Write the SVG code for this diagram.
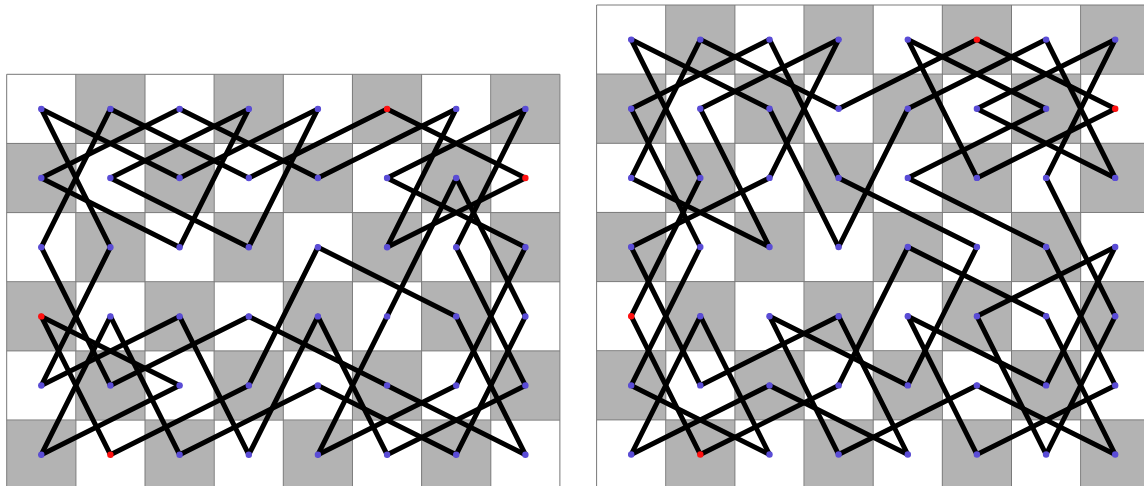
<svg xmlns="http://www.w3.org/2000/svg" xmlns:xlink="http://www.w3.org/1999/xlink" width="1144" height="486" viewBox="0 0 1144 486">
<style>
.grid{fill:none;stroke:#7a7a7a;stroke-width:1}
.e line{stroke:#000;stroke-width:5;stroke-linecap:round}
.n{fill:#5a4cd6}
.s{fill:#ff1010}
</style>
<defs>
<pattern id="chkL" patternUnits="userSpaceOnUse" x="6.7" y="74.3" width="138.3" height="138.3">
<rect width="138.3" height="138.3" fill="#fff"/>
<rect x="69.15" y="0" width="69.15" height="69.15" fill="#b3b3b3"/>
<rect x="0" y="69.15" width="69.15" height="69.15" fill="#b3b3b3"/>
</pattern>
<pattern id="chkR" patternUnits="userSpaceOnUse" x="596.6" y="5" width="138.3" height="138.3">
<rect width="138.3" height="138.3" fill="#fff"/>
<rect x="69.15" y="0" width="69.15" height="69.15" fill="#b3b3b3"/>
<rect x="0" y="69.15" width="69.15" height="69.15" fill="#b3b3b3"/>
</pattern>
</defs>
<rect width="1144" height="486" fill="#fff"/>
<g id="boardL">
<rect x="6.7" y="74.3" width="553.2" height="414.9" fill="url(#chkL)"/>
<path class="grid" d="M6.7 74.3V489.2M75.85 74.3V489.2M145 74.3V489.2M214.15 74.3V489.2M283.3 74.3V489.2M352.45 74.3V489.2M421.6 74.3V489.2M490.75 74.3V489.2M559.9 74.3V489.2M6.7 74.3H559.9M6.7 143.45H559.9M6.7 212.6H559.9M6.7 281.75H559.9M6.7 350.9H559.9M6.7 420.05H559.9"/>
</g>
<g id="boardR">
<rect x="596.6" y="5" width="553.2" height="484.05" fill="url(#chkR)"/>
<path class="grid" d="M596.6 5V489M665.75 5V489M734.9 5V489M804.05 5V489M873.2 5V489M942.35 5V489M1011.5 5V489M1080.65 5V489M596.6 5H1150M596.6 74.15H1150M596.6 143.3H1150M596.6 212.45H1150M596.6 281.6H1150M596.6 350.75H1150M596.6 419.9H1150"/>
</g>
<g id="connectors" class="e">
<line x1="41.3" y1="108.9" x2="110.4" y2="247.2"/>
<line x1="41.3" y1="108.9" x2="179.6" y2="178"/>
<line x1="110.4" y1="108.9" x2="41.3" y2="247.2"/>
<line x1="110.4" y1="108.9" x2="248.8" y2="178"/>
<line x1="179.6" y1="108.9" x2="41.3" y2="178"/>
<line x1="179.6" y1="108.9" x2="317.9" y2="178"/>
<line x1="248.8" y1="108.9" x2="110.4" y2="178"/>
<line x1="248.8" y1="108.9" x2="179.6" y2="247.2"/>
<line x1="41.3" y1="178" x2="179.6" y2="247.2"/>
<line x1="110.4" y1="178" x2="248.8" y2="247.2"/>
<line x1="179.6" y1="178" x2="317.9" y2="108.9"/>
<line x1="248.8" y1="178" x2="387.1" y2="108.9"/>
<line x1="41.3" y1="247.2" x2="110.4" y2="385.5"/>
<line x1="110.4" y1="247.2" x2="41.3" y2="385.5"/>
<line x1="248.8" y1="247.2" x2="317.9" y2="108.9"/>
<line x1="387.1" y1="108.9" x2="525.4" y2="178"/>
<line x1="317.9" y1="178" x2="456.2" y2="108.9"/>
<line x1="456.2" y1="108.9" x2="387.1" y2="247.2"/>
<line x1="525.4" y1="108.9" x2="387.1" y2="178"/>
<line x1="525.4" y1="108.9" x2="456.2" y2="247.2"/>
<line x1="387.1" y1="178" x2="525.4" y2="247.2"/>
<line x1="456.2" y1="178" x2="387.1" y2="316.4"/>
<line x1="456.2" y1="178" x2="525.4" y2="316.4"/>
<line x1="525.4" y1="178" x2="387.1" y2="247.2"/>
<line x1="456.2" y1="247.2" x2="525.4" y2="385.5"/>
<line x1="525.4" y1="247.2" x2="456.2" y2="385.5"/>
<line x1="317.9" y1="247.2" x2="456.2" y2="316.4"/>
<line x1="317.9" y1="247.2" x2="248.8" y2="385.5"/>
<line x1="41.3" y1="316.4" x2="179.6" y2="385.5"/>
<line x1="41.3" y1="316.4" x2="110.4" y2="454.7"/>
<line x1="110.4" y1="316.4" x2="41.3" y2="454.7"/>
<line x1="110.4" y1="316.4" x2="179.6" y2="454.7"/>
<line x1="179.6" y1="316.4" x2="41.3" y2="385.5"/>
<line x1="179.6" y1="316.4" x2="248.8" y2="454.7"/>
<line x1="248.8" y1="316.4" x2="110.4" y2="385.5"/>
<line x1="248.8" y1="316.4" x2="387.1" y2="385.5"/>
<line x1="179.6" y1="385.5" x2="41.3" y2="454.7"/>
<line x1="248.8" y1="385.5" x2="110.4" y2="454.7"/>
<line x1="179.6" y1="454.7" x2="317.9" y2="385.5"/>
<line x1="248.8" y1="454.7" x2="317.9" y2="316.4"/>
<line x1="317.9" y1="316.4" x2="387.1" y2="454.7"/>
<line x1="387.1" y1="316.4" x2="317.9" y2="454.7"/>
<line x1="456.2" y1="316.4" x2="525.4" y2="454.7"/>
<line x1="525.4" y1="316.4" x2="456.2" y2="454.7"/>
<line x1="317.9" y1="385.5" x2="456.2" y2="454.7"/>
<line x1="387.1" y1="385.5" x2="525.4" y2="454.7"/>
<line x1="456.2" y1="385.5" x2="317.9" y2="454.7"/>
<line x1="525.4" y1="385.5" x2="387.1" y2="454.7"/>
<line x1="631.2" y1="39.6" x2="769.5" y2="108.7"/>
<line x1="631.2" y1="39.6" x2="700.3" y2="177.9"/>
<line x1="700.3" y1="39.6" x2="631.2" y2="177.9"/>
<line x1="700.3" y1="39.6" x2="838.6" y2="108.7"/>
<line x1="769.5" y1="39.6" x2="631.2" y2="108.7"/>
<line x1="769.5" y1="39.6" x2="838.6" y2="177.9"/>
<line x1="838.6" y1="39.6" x2="700.3" y2="108.7"/>
<line x1="838.6" y1="39.6" x2="769.5" y2="177.9"/>
<line x1="907.8" y1="39.6" x2="976.9" y2="177.9"/>
<line x1="907.8" y1="39.6" x2="1046.1" y2="108.7"/>
<line x1="976.9" y1="39.6" x2="838.6" y2="108.7"/>
<line x1="976.9" y1="39.6" x2="1115.2" y2="108.7"/>
<line x1="1046.1" y1="39.6" x2="907.8" y2="108.7"/>
<line x1="1046.1" y1="39.6" x2="1115.2" y2="177.9"/>
<line x1="1115.2" y1="39.6" x2="976.9" y2="108.7"/>
<line x1="1115.2" y1="39.6" x2="1046.1" y2="177.9"/>
<line x1="631.2" y1="108.7" x2="700.3" y2="247"/>
<line x1="700.3" y1="108.7" x2="769.5" y2="247"/>
<line x1="769.5" y1="108.7" x2="838.6" y2="247"/>
<line x1="838.6" y1="247" x2="907.8" y2="108.7"/>
<line x1="976.9" y1="108.7" x2="1115.2" y2="177.9"/>
<line x1="1046.1" y1="108.7" x2="907.8" y2="177.9"/>
<line x1="1115.2" y1="108.7" x2="976.9" y2="177.9"/>
<line x1="631.2" y1="177.9" x2="769.5" y2="247"/>
<line x1="700.3" y1="177.9" x2="631.2" y2="316.2"/>
<line x1="769.5" y1="177.9" x2="631.2" y2="247"/>
<line x1="838.6" y1="177.9" x2="976.9" y2="247"/>
<line x1="907.8" y1="177.9" x2="1046.1" y2="247"/>
<line x1="1046.1" y1="177.9" x2="1115.2" y2="316.2"/>
<line x1="631.2" y1="247" x2="700.3" y2="385.4"/>
<line x1="700.3" y1="247" x2="631.2" y2="385.4"/>
<line x1="907.8" y1="247" x2="1046.1" y2="316.2"/>
<line x1="907.8" y1="247" x2="838.6" y2="385.4"/>
<line x1="976.9" y1="247" x2="907.8" y2="385.4"/>
<line x1="1046.1" y1="247" x2="1115.2" y2="385.4"/>
<line x1="1115.2" y1="247" x2="976.9" y2="316.2"/>
<line x1="1115.2" y1="247" x2="1046.1" y2="385.4"/>
<line x1="631.2" y1="316.2" x2="700.3" y2="454.5"/>
<line x1="700.3" y1="316.2" x2="631.2" y2="454.5"/>
<line x1="700.3" y1="316.2" x2="769.5" y2="454.5"/>
<line x1="769.5" y1="316.2" x2="907.8" y2="385.4"/>
<line x1="769.5" y1="316.2" x2="838.6" y2="454.5"/>
<line x1="838.6" y1="316.2" x2="700.3" y2="385.4"/>
<line x1="838.6" y1="316.2" x2="907.8" y2="454.5"/>
<line x1="907.8" y1="316.2" x2="1046.1" y2="385.4"/>
<line x1="907.8" y1="316.2" x2="976.9" y2="454.5"/>
<line x1="976.9" y1="316.2" x2="1046.1" y2="454.5"/>
<line x1="1046.1" y1="316.2" x2="1115.2" y2="454.5"/>
<line x1="1115.2" y1="316.2" x2="1046.1" y2="454.5"/>
<line x1="631.2" y1="385.4" x2="769.5" y2="454.5"/>
<line x1="769.5" y1="385.4" x2="631.2" y2="454.5"/>
<line x1="769.5" y1="385.4" x2="907.8" y2="454.5"/>
<line x1="838.6" y1="385.4" x2="700.3" y2="454.5"/>
<line x1="976.9" y1="385.4" x2="838.6" y2="454.5"/>
<line x1="976.9" y1="385.4" x2="1115.2" y2="454.5"/>
<line x1="1115.2" y1="385.4" x2="976.9" y2="454.5"/>
</g>
<g id="nodesL">
<g id="L00"><circle class="n" cx="41.3" cy="108.9" r="3.2"/></g>
<g id="L10"><circle class="n" cx="110.4" cy="108.9" r="3.2"/></g>
<g id="L20"><circle class="n" cx="179.6" cy="108.9" r="3.2"/></g>
<g id="L30"><circle class="n" cx="248.8" cy="108.9" r="3.2"/></g>
<g id="L40"><circle class="n" cx="317.9" cy="108.9" r="3.2"/></g>
<g id="L50"><circle class="s" cx="387.1" cy="108.9" r="3.2"/></g>
<g id="L60"><circle class="n" cx="456.2" cy="108.9" r="3.2"/></g>
<g id="L70"><circle class="n" cx="525.4" cy="108.9" r="3.2"/></g>
<g id="L01"><circle class="n" cx="41.3" cy="178" r="3.2"/></g>
<g id="L11"><circle class="n" cx="110.4" cy="178" r="3.2"/></g>
<g id="L21"><circle class="n" cx="179.6" cy="178" r="3.2"/></g>
<g id="L31"><circle class="n" cx="248.8" cy="178" r="3.2"/></g>
<g id="L41"><circle class="n" cx="317.9" cy="178" r="3.2"/></g>
<g id="L51"><circle class="n" cx="387.1" cy="178" r="3.2"/></g>
<g id="L61"><circle class="n" cx="456.2" cy="178" r="3.2"/></g>
<g id="L71"><circle class="s" cx="525.4" cy="178" r="3.2"/></g>
<g id="L02"><circle class="n" cx="41.3" cy="247.2" r="3.2"/></g>
<g id="L12"><circle class="n" cx="110.4" cy="247.2" r="3.2"/></g>
<g id="L22"><circle class="n" cx="179.6" cy="247.2" r="3.2"/></g>
<g id="L32"><circle class="n" cx="248.8" cy="247.2" r="3.2"/></g>
<g id="L42"><circle class="n" cx="317.9" cy="247.2" r="3.2"/></g>
<g id="L52"><circle class="n" cx="387.1" cy="247.2" r="3.2"/></g>
<g id="L62"><circle class="n" cx="456.2" cy="247.2" r="3.2"/></g>
<g id="L72"><circle class="n" cx="525.4" cy="247.2" r="3.2"/></g>
<g id="L03"><circle class="s" cx="41.3" cy="316.4" r="3.2"/></g>
<g id="L13"><circle class="n" cx="110.4" cy="316.4" r="3.2"/></g>
<g id="L23"><circle class="n" cx="179.6" cy="316.4" r="3.2"/></g>
<g id="L33"><circle class="n" cx="248.8" cy="316.4" r="3.2"/></g>
<g id="L43"><circle class="n" cx="317.9" cy="316.4" r="3.2"/></g>
<g id="L53"><circle class="n" cx="387.1" cy="316.4" r="3.2"/></g>
<g id="L63"><circle class="n" cx="456.2" cy="316.4" r="3.2"/></g>
<g id="L73"><circle class="n" cx="525.4" cy="316.4" r="3.2"/></g>
<g id="L04"><circle class="n" cx="41.3" cy="385.5" r="3.2"/></g>
<g id="L14"><circle class="n" cx="110.4" cy="385.5" r="3.2"/></g>
<g id="L24"><circle class="n" cx="179.6" cy="385.5" r="3.2"/></g>
<g id="L34"><circle class="n" cx="248.8" cy="385.5" r="3.2"/></g>
<g id="L44"><circle class="n" cx="317.9" cy="385.5" r="3.2"/></g>
<g id="L54"><circle class="n" cx="387.1" cy="385.5" r="3.2"/></g>
<g id="L64"><circle class="n" cx="456.2" cy="385.5" r="3.2"/></g>
<g id="L74"><circle class="n" cx="525.4" cy="385.5" r="3.2"/></g>
<g id="L05"><circle class="n" cx="41.3" cy="454.7" r="3.2"/></g>
<g id="L15"><circle class="s" cx="110.4" cy="454.7" r="3.2"/></g>
<g id="L25"><circle class="n" cx="179.6" cy="454.7" r="3.2"/></g>
<g id="L35"><circle class="n" cx="248.8" cy="454.7" r="3.2"/></g>
<g id="L45"><circle class="n" cx="317.9" cy="454.7" r="3.2"/></g>
<g id="L55"><circle class="n" cx="387.1" cy="454.7" r="3.2"/></g>
<g id="L65"><circle class="n" cx="456.2" cy="454.7" r="3.2"/></g>
<g id="L75"><circle class="n" cx="525.4" cy="454.7" r="3.2"/></g>
</g>
<g id="nodesR">
<g id="R00"><circle class="n" cx="631.2" cy="39.6" r="3.2"/></g>
<g id="R10"><circle class="n" cx="700.3" cy="39.6" r="3.2"/></g>
<g id="R20"><circle class="n" cx="769.5" cy="39.6" r="3.2"/></g>
<g id="R30"><circle class="n" cx="838.6" cy="39.6" r="3.2"/></g>
<g id="R40"><circle class="n" cx="907.8" cy="39.6" r="3.2"/></g>
<g id="R50"><circle class="s" cx="976.9" cy="39.6" r="3.2"/></g>
<g id="R60"><circle class="n" cx="1046.1" cy="39.6" r="3.2"/></g>
<g id="R70"><circle class="n" cx="1115.2" cy="39.6" r="3.2"/></g>
<g id="R01"><circle class="n" cx="631.2" cy="108.7" r="3.2"/></g>
<g id="R11"><circle class="n" cx="700.3" cy="108.7" r="3.2"/></g>
<g id="R21"><circle class="n" cx="769.5" cy="108.7" r="3.2"/></g>
<g id="R31"><circle class="n" cx="838.6" cy="108.7" r="3.2"/></g>
<g id="R41"><circle class="n" cx="907.8" cy="108.7" r="3.2"/></g>
<g id="R51"><circle class="n" cx="976.9" cy="108.7" r="3.2"/></g>
<g id="R61"><circle class="n" cx="1046.1" cy="108.7" r="3.2"/></g>
<g id="R71"><circle class="s" cx="1115.2" cy="108.7" r="3.2"/></g>
<g id="R02"><circle class="n" cx="631.2" cy="177.9" r="3.2"/></g>
<g id="R12"><circle class="n" cx="700.3" cy="177.9" r="3.2"/></g>
<g id="R22"><circle class="n" cx="769.5" cy="177.9" r="3.2"/></g>
<g id="R32"><circle class="n" cx="838.6" cy="177.9" r="3.2"/></g>
<g id="R42"><circle class="n" cx="907.8" cy="177.9" r="3.2"/></g>
<g id="R52"><circle class="n" cx="976.9" cy="177.9" r="3.2"/></g>
<g id="R62"><circle class="n" cx="1046.1" cy="177.9" r="3.2"/></g>
<g id="R72"><circle class="n" cx="1115.2" cy="177.9" r="3.2"/></g>
<g id="R03"><circle class="n" cx="631.2" cy="247" r="3.2"/></g>
<g id="R13"><circle class="n" cx="700.3" cy="247" r="3.2"/></g>
<g id="R23"><circle class="n" cx="769.5" cy="247" r="3.2"/></g>
<g id="R33"><circle class="n" cx="838.6" cy="247" r="3.2"/></g>
<g id="R43"><circle class="n" cx="907.8" cy="247" r="3.2"/></g>
<g id="R53"><circle class="n" cx="976.9" cy="247" r="3.2"/></g>
<g id="R63"><circle class="n" cx="1046.1" cy="247" r="3.2"/></g>
<g id="R73"><circle class="n" cx="1115.2" cy="247" r="3.2"/></g>
<g id="R04"><circle class="s" cx="631.2" cy="316.2" r="3.2"/></g>
<g id="R14"><circle class="n" cx="700.3" cy="316.2" r="3.2"/></g>
<g id="R24"><circle class="n" cx="769.5" cy="316.2" r="3.2"/></g>
<g id="R34"><circle class="n" cx="838.6" cy="316.2" r="3.2"/></g>
<g id="R44"><circle class="n" cx="907.8" cy="316.2" r="3.2"/></g>
<g id="R54"><circle class="n" cx="976.9" cy="316.2" r="3.2"/></g>
<g id="R64"><circle class="n" cx="1046.1" cy="316.2" r="3.2"/></g>
<g id="R74"><circle class="n" cx="1115.2" cy="316.2" r="3.2"/></g>
<g id="R05"><circle class="n" cx="631.2" cy="385.4" r="3.2"/></g>
<g id="R15"><circle class="n" cx="700.3" cy="385.4" r="3.2"/></g>
<g id="R25"><circle class="n" cx="769.5" cy="385.4" r="3.2"/></g>
<g id="R35"><circle class="n" cx="838.6" cy="385.4" r="3.2"/></g>
<g id="R45"><circle class="n" cx="907.8" cy="385.4" r="3.2"/></g>
<g id="R55"><circle class="n" cx="976.9" cy="385.4" r="3.2"/></g>
<g id="R65"><circle class="n" cx="1046.1" cy="385.4" r="3.2"/></g>
<g id="R75"><circle class="n" cx="1115.2" cy="385.4" r="3.2"/></g>
<g id="R06"><circle class="n" cx="631.2" cy="454.5" r="3.2"/></g>
<g id="R16"><circle class="s" cx="700.3" cy="454.5" r="3.2"/></g>
<g id="R26"><circle class="n" cx="769.5" cy="454.5" r="3.2"/></g>
<g id="R36"><circle class="n" cx="838.6" cy="454.5" r="3.2"/></g>
<g id="R46"><circle class="n" cx="907.8" cy="454.5" r="3.2"/></g>
<g id="R56"><circle class="n" cx="976.9" cy="454.5" r="3.2"/></g>
<g id="R66"><circle class="n" cx="1046.1" cy="454.5" r="3.2"/></g>
<g id="R76"><circle class="n" cx="1115.2" cy="454.5" r="3.2"/></g>
</g>
</svg>
